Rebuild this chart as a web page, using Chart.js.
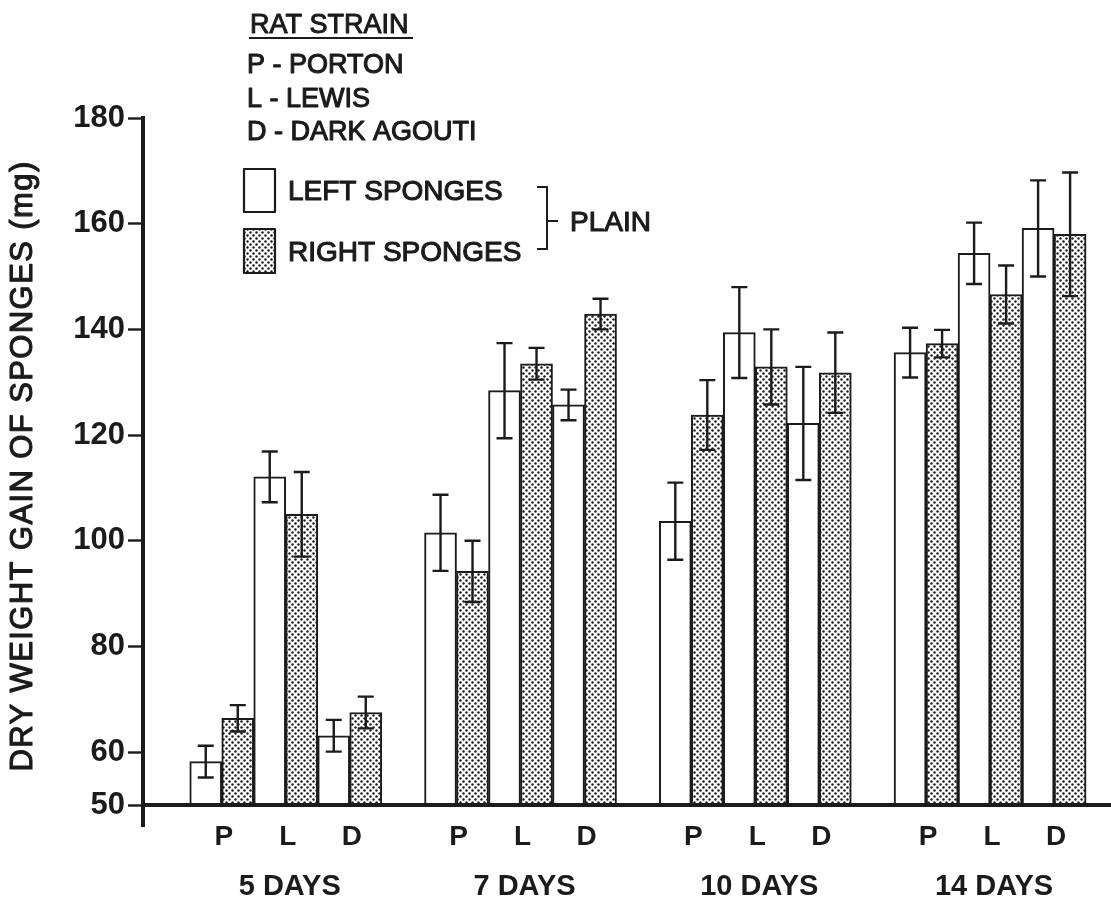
<!DOCTYPE html>
<html>
<head>
<meta charset="utf-8">
<script src="https://cdn.jsdelivr.net/npm/chart.js@4.4.1/dist/chart.umd.min.js"></script>
<style>
  html, body { margin: 0; padding: 0; background: #fff; }
  canvas { display: block; }
</style>
</head>
<body>
<canvas id="c" width="1111" height="901"></canvas>
<script>
// Time points, rat strains and y-axis ticks
const days = ['5 DAYS', '7 DAYS', '10 DAYS', '14 DAYS'];
const strains = ['P', 'L', 'D'];
const strainNames = ['PORTON', 'LEWIS', 'DARK AGOUTI'];
const yTicks = [50, 60, 80, 100, 120, 140, 160, 180];

// Mean dry weight gain of sponges (mg) with error half-widths, per time point
const portonLeft     = [58.2, 101.5, 103.7, 135.6];
const portonLeftErr  = [3.0, 7.2, 7.3, 4.7];
const portonRight    = [66.4, 94.2, 123.8, 137.3];
const portonRightErr = [2.5, 5.8, 6.6, 2.6];
const lewisLeft      = [112.1, 128.4, 139.4, 154.4];
const lewisLeftErr   = [4.8, 9.0, 8.6, 5.8];
const lewisRight     = [105.0, 133.5, 132.9, 146.6];
const lewisRightErr  = [8.0, 3.0, 7.1, 5.5];
const agoutiLeft     = [63.1, 125.7, 122.2, 159.1];
const agoutiLeftErr  = [3.0, 2.9, 10.7, 9.1];
const agoutiRight    = [67.5, 142.9, 131.8, 158.0];
const agoutiRightErr = [3.0, 2.9, 7.6, 11.7];

const INK = '#1b1b1b';
const FONT = '"Liberation Sans", Arial, Helvetica, sans-serif';

const canvas = document.getElementById('c');
const ctx = canvas.getContext('2d');

// stippled fill used for the right-side sponges
function makeDots() {
  const t = document.createElement('canvas');
  t.width = 6; t.height = 6;
  const g = t.getContext('2d');
  g.fillStyle = '#ffffff';
  g.fillRect(0, 0, 6, 6);
  g.fillStyle = '#1a1a1a';
  [[1.5, 1.5], [4.5, 4.5]].forEach(([x, y]) => {
    g.beginPath(); g.arc(x, y, 1.2, 0, Math.PI * 2); g.fill();
  });
  return ctx.createPattern(t, 'repeat');
}
const DOTS = makeDots();

const series = [
  { strain: 0, side: 'left',  values: portonLeft,  errs: portonLeftErr },
  { strain: 0, side: 'right', values: portonRight, errs: portonRightErr },
  { strain: 1, side: 'left',  values: lewisLeft,   errs: lewisLeftErr },
  { strain: 1, side: 'right', values: lewisRight,  errs: lewisRightErr },
  { strain: 2, side: 'left',  values: agoutiLeft,  errs: agoutiLeftErr },
  { strain: 2, side: 'right', values: agoutiRight, errs: agoutiRightErr }
];

const datasets = series.map(s => ({
  label: strains[s.strain] + ' ' + s.side,
  data: s.values.map((v, i) => ({ x: i, y: v })),
  errs: s.errs,
  backgroundColor: s.side === 'left' ? '#ffffff' : DOTS,
  borderColor: INK,
  borderWidth: 2,
  borderSkipped: 'start',
  barThickness: 32,
  grouped: true
}));

function text(c, str, x, y, size, weight, align, thicken) {
  c.font = weight + ' ' + size + 'px ' + FONT;
  c.textAlign = align;
  c.textBaseline = 'alphabetic';
  c.fillStyle = INK;
  c.fillText(str, x, y);
  if (thicken) {
    c.lineWidth = thicken;
    c.strokeStyle = INK;
    c.lineJoin = 'round';
    c.strokeText(str, x, y);
  }
}

// error bars with caps, centred on each bar; x axis line redrawn over bar bases
const errorBars = {
  id: 'errorBars',
  afterDatasetsDraw(chart) {
    const c = chart.ctx;
    const ys = chart.scales.y;
    const area = chart.chartArea;
    c.save();
    c.strokeStyle = INK;
    c.lineWidth = 2.4;
    chart.data.datasets.forEach((ds, di) => {
      const meta = chart.getDatasetMeta(di);
      meta.data.forEach((bar, i) => {
        const v = ds.data[i].y, e = ds.errs[i];
        const top = ys.getPixelForValue(v + e);
        const bot = ys.getPixelForValue(v - e);
        const x = bar.x, w = 8;
        c.beginPath();
        c.moveTo(x, top); c.lineTo(x, bot);
        c.moveTo(x - w, top); c.lineTo(x + w, top);
        c.moveTo(x - w, bot); c.lineTo(x + w, bot);
        c.stroke();
      });
    });
    c.lineWidth = 4;
    c.beginPath();
    c.moveTo(area.left, area.bottom);
    c.lineTo(area.right, area.bottom);
    c.moveTo(area.left, area.bottom);
    c.lineTo(area.left, area.bottom + 22);
    c.stroke();
    c.restore();
  }
};

// category labels, axis title and key
const decorations = {
  id: 'decorations',
  afterDraw(chart) {
    const c = chart.ctx;
    c.save();

    // strain letters under each pair, time point under each group
    const metas = chart.data.datasets.map((d, i) => chart.getDatasetMeta(i));
    days.forEach((day, i) => {
      strains.forEach((s, si) => {
        const l = metas[si * 2].data[i], r = metas[si * 2 + 1].data[i];
        text(c, s, (l.x + r.x) / 2 + 2, 845, 28, 'bold', 'center');
      });
      const first = metas[0].data[i], last = metas[5].data[i];
      text(c, day, (first.x + last.x) / 2 + 4, 895, 29, 'bold', 'center');
    });

    // y axis title
    c.save();
    c.translate(32, 466);
    c.rotate(-Math.PI / 2);
    c.letterSpacing = '1.4px';
    text(c, 'DRY WEIGHT GAIN OF SPONGES (mg)', 0, 0, 31, 'normal', 'center', 1.1);
    c.restore();

    // strain key
    text(c, 'RAT STRAIN', 250, 33, 27, 'normal', 'left', 1.0);
    c.lineWidth = 2;
    c.strokeStyle = INK;
    c.beginPath(); c.moveTo(249, 38); c.lineTo(413, 38); c.stroke();
    strains.forEach((s, si) => {
      text(c, s + ' - ' + strainNames[si], 247, 73 + si * 33.5, 27, 'normal', 'left', 1.1);
    });

    // sponge key
    c.lineWidth = 2.2;
    c.strokeStyle = INK;
    c.fillStyle = '#ffffff';
    c.fillRect(244, 169, 31, 43);
    c.strokeRect(244, 169, 31, 43);
    c.fillStyle = DOTS;
    c.fillRect(244, 229, 31, 44);
    c.strokeRect(244, 229, 31, 44);
    text(c, 'LEFT SPONGES', 288, 200, 28, 'normal', 'left', 1.1);
    text(c, 'RIGHT SPONGES', 288, 261, 28, 'normal', 'left', 1.1);

    // bracket joining both sides to PLAIN
    c.lineWidth = 2;
    c.strokeStyle = INK;
    c.beginPath();
    c.moveTo(537, 187); c.lineTo(547, 187); c.lineTo(547, 249); c.lineTo(537, 249);
    c.moveTo(547, 221); c.lineTo(558, 221);
    c.stroke();
    text(c, 'PLAIN', 570, 231, 28, 'normal', 'left', 1.1);

    c.restore();
  }
};

new Chart(ctx, {
  type: 'bar',
  data: { datasets },
  options: {
    responsive: false,
    animation: false,
    events: [],
    layout: { padding: { top: 118, right: 0, bottom: 0, left: 0 } },
    plugins: {
      legend: { display: false },
      tooltip: { enabled: false },
      title: { display: false }
    },
    scales: {
      x: {
        type: 'linear',
        min: -0.608,
        max: 3.515,
        offset: false,
        grid: { display: false },
        border: { display: true, color: INK, width: 4 },
        ticks: { display: false },
        afterFit(scale) { scale.height = 96; }
      },
      y: {
        min: 50,
        max: 180,
        afterBuildTicks(scale) { scale.ticks = yTicks.map(v => ({ value: v })); },
        ticks: {
          color: INK,
          padding: 3,
          font: { family: FONT, size: 31, weight: 'bold' }
        },
        grid: {
          display: true,
          drawOnChartArea: false,
          drawTicks: true,
          tickLength: 15,
          tickWidth: 2.4,
          tickColor: INK
        },
        border: { display: true, color: INK, width: 4 },
        afterFit(scale) { scale.width = 143; }
      }
    }
  },
  plugins: [errorBars, decorations]
});
</script>
</body>
</html>
